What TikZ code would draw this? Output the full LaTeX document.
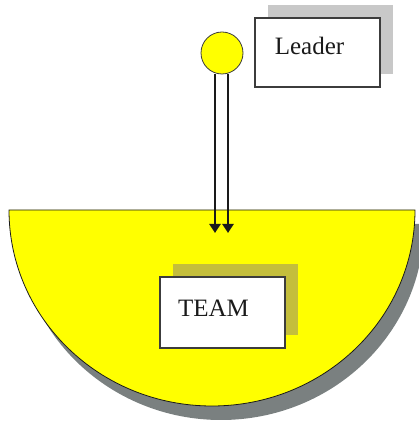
\documentclass[tikz,border=0pt]{standalone}
\usepackage{fontspec}
\setmainfont{Liberation Serif}
\usepackage{xcolor}
\usepackage{tikz}
\usetikzlibrary{positioning,arrows.meta,shadows}
\definecolor{ink}      {HTML}{1A1A1A}
\definecolor{rim}      {HTML}{3C3C3C}
\definecolor{sun}      {HTML}{FFFF00}
\definecolor{greyshade}{HTML}{7A8080}
\definecolor{paleshade}{HTML}{C8C8C8}
\definecolor{olive}    {HTML}{C4BE3C}
\tikzset{
  card/.style   = {draw=rim, fill=white, line width=1.2pt,
                   font=\fontsize{25}{28}\selectfont, text=ink, inner sep=0pt},
  bowl/.style   = {fill=sun, draw=ink, line width=0.8pt,
                   drop shadow={shadow xshift=9pt, shadow yshift=-14pt,
                                fill=greyshade, opacity=1}},
  dot/.style    = {circle, fill=sun, draw=rim, line width=0.8pt,
                   minimum size=42pt, inner sep=0pt},
  push/.style   = {-{Triangle[length=9pt,width=11pt]}, draw=ink, line width=2.6pt},
}

\begin{document}
\begin{tikzpicture}[x=1pt, y=1pt]
  \useasboundingbox (0,0) rectangle (419,426);

  % the team as a half disc
  \path[bowl] (9,216) arc[start angle=180, end angle=360,
                          x radius=203, y radius=196] -- cycle;

  \node[card, minimum width=125pt, minimum height=71pt,
        text height=16pt, text depth=7pt,
        drop shadow={shadow xshift=13pt, shadow yshift=13pt, fill=olive, opacity=1}]
        (team) at (222.5,113.5) {TEAM\rule{18pt}{0pt}};

  \node[dot] (head) at (222,373) {};
  \node[card, minimum width=125pt, minimum height=69pt,
        text height=17pt, text depth=12pt,
        drop shadow={shadow xshift=13pt, shadow yshift=13pt, fill=paleshade, opacity=1}]
        (leader) at (317.5,373.5) {Leader\rule{16pt}{0pt}};

  \coordinate (tipa) at (215,193);
  \coordinate (tipb) at (228,193);
  \draw[push] (head.south -| tipa) -- (tipa);
  \draw[push] (head.south -| tipb) -- (tipb);
\end{tikzpicture}
\end{document}
